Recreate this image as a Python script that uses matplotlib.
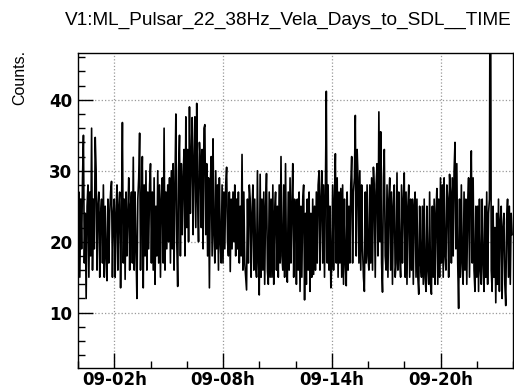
import numpy as np
import matplotlib
matplotlib.use('Agg')
import matplotlib.pyplot as plt
from matplotlib.ticker import MultipleLocator

# ── data: counts per 3-minute sample, day 09, 00h-24h (20 samples / hour) ───
step_min = 3
counts_h00_05 = [
    18, 27, 15, 26, 19, 29, 35, 17, 24, 12, 25, 28, 15, 27, 18, 36, 16, 26, 19, 34.7,
    30, 16, 25, 27, 15, 24, 26, 17, 28, 15, 25, 18, 14.5, 26, 17, 24, 27, 28.5, 15, 24,
    26, 15, 24, 28, 16, 25, 27, 13.5, 24, 36.8, 17, 26, 14.7, 27, 18, 24, 29, 16, 25, 27,
    17, 31.9, 16, 27, 19, 12, 26, 29, 35.3, 16, 25, 32, 13.5, 28, 18, 30, 16, 27, 19, 28,
    31, 17, 27, 16, 29, 14, 25, 18, 30, 17, 28, 15, 26, 29, 17, 36, 16, 27, 19, 28,
    20, 29, 17, 30, 19, 31, 16, 28, 38, 20, 13.7, 30, 35, 18, 31, 21, 29, 33, 18, 37.6,
]
counts_h06_11 = [
    22, 33, 20, 39, 24, 32, 37.5, 21, 31, 37.6, 22, 39.5, 26, 20, 34, 31, 22, 33, 19, 36,
    36.5, 21, 31, 18, 29, 13.5, 28, 32, 18, 34.5, 21, 17, 30, 19, 28, 16, 29, 20, 17, 28,
    17, 27, 19, 28, 30.5, 20, 18, 27, 15.8, 26, 19, 27, 20, 28, 18, 26, 19, 27, 17, 25,
    18, 32.3, 16, 27, 17, 15, 13.2, 26, 17, 28, 26, 15, 24, 28, 16, 26, 17, 15, 30, 17,
    12.5, 29.5, 15, 26, 16, 27, 14, 25, 29.6, 16, 14, 27, 15, 26, 15, 28, 14, 24, 27, 16,
    25, 15, 28, 17, 32, 18, 16, 28, 15, 31, 17, 14.3, 27, 16, 29, 17, 25, 31, 15, 26,
]
counts_h12_17 = [
    24, 14, 26, 16, 27, 13, 25, 15, 26, 28, 11.8, 24, 14, 26, 16, 27, 13, 24, 15, 26,
    15.4, 25, 16, 27, 17, 28, 30, 16, 26, 30, 17, 28, 15, 27, 41.2, 17, 28, 16, 25, 13.5,
    17, 28, 16, 26, 32.4, 17, 29, 15, 27, 17, 27.5, 15, 28, 14, 26, 17, 13.8, 27, 16, 25,
    17, 28, 32, 17, 27, 29, 37.8, 18, 33, 29, 17, 30, 16, 28, 19, 15, 13, 27, 17, 28,
    18, 16, 28, 17, 29, 16, 30.5, 27, 15, 28, 31, 18, 38.3, 20, 35.5, 17, 12.9, 29, 33, 18,
    16, 28, 15, 26, 29, 16, 27, 14, 25, 28, 15, 17, 29.7, 16, 27, 18, 15, 28, 17, 26,
]
counts_h18_23 = [
    29.7, 15, 27, 14, 25, 28, 15, 26, 16, 26, 14, 25, 27, 15, 26, 15, 12.6, 25, 17, 15,
    25, 14, 26, 15, 13, 25, 16, 14, 27, 14, 12.6, 25, 15, 26, 14, 24, 27.5, 14, 26, 15,
    29, 17, 28, 15, 29, 18, 16, 28, 26, 15, 29.5, 27, 17, 29, 18, 30, 34, 19, 31, 17,
    10.6, 26, 15, 28, 17, 14, 27, 16, 26, 14, 25, 29, 15, 27, 32.8, 17, 29, 16, 13, 25,
    15, 25, 13, 26, 16, 14, 26, 17, 13, 25, 15, 27, 14, 24, 26, 75, 16, 13, 25, 15,
    22, 11.4, 24, 14, 26, 13, 23, 25, 12, 22, 24, 14, 11, 23, 26, 15, 25, 14, 24, 21,
]
counts = np.array(counts_h00_05 + counts_h06_11 + counts_h12_17 + counts_h18_23)
hours = np.arange(len(counts)) * step_min / 60.0

tick_hours = [2, 8, 14, 20]
tick_labels = ['09-02h', '09-08h', '09-14h', '09-20h']

plt.rcParams.update({'font.family': 'Liberation Sans'})

fig = plt.figure(figsize=(5.14, 3.89), dpi=100)
ax = fig.add_axes([78/514, 1 - 368/389, 435/514, 315/389])

ax.plot(hours, counts, color='black', lw=1.2, zorder=3)

ax.set_xlim(0, 24)
ax.set_ylim(2.2, 46.6)
ax.set_xticks(tick_hours)
ax.set_xticklabels(tick_labels)
ax.xaxis.set_minor_locator(MultipleLocator(2))
ax.yaxis.set_major_locator(MultipleLocator(10))
ax.yaxis.set_minor_locator(MultipleLocator(2))
ax.tick_params(which='both', direction='in', top=False, right=False,
               labelsize=12, width=1.0, colors='black')
ax.tick_params(which='major', length=11, pad=4)
ax.tick_params(which='minor', length=5)
ax.tick_params(axis='x', which='major', pad=2)
for lbl in ax.get_xticklabels() + ax.get_yticklabels():
    lbl.set_family('DejaVu Sans')
    lbl.set_fontweight('bold')
ax.grid(True, which='major', color='#999999', ls=':', lw=0.9, zorder=0)
for s in ax.spines.values():
    s.set_linewidth(1.0)

fig.text(288/514, 1 - 20/389, 'V1:ML_Pulsar_22_38Hz_Vela_Days_to_SDL__TIME',
         ha='center', va='center', fontsize=13.7)
fig.text(20/514, 1 - 50/389, 'Counts.', rotation=90,
         ha='center', va='top', fontsize=11.5)

fig.savefig('out.png', dpi=100, facecolor='white')
